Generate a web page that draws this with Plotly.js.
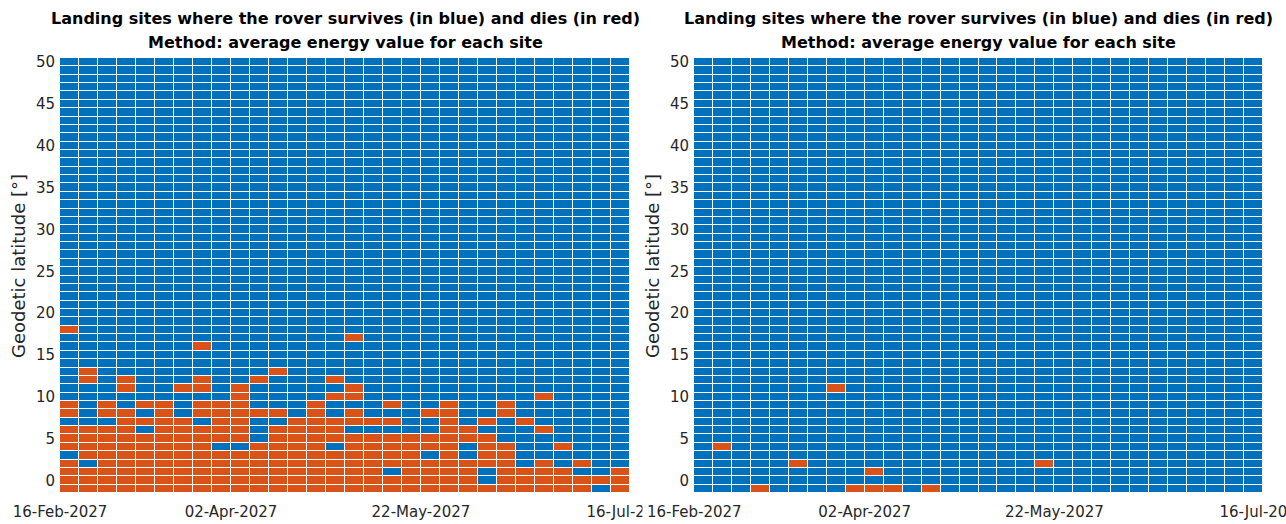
<!DOCTYPE html>
<html><head><meta charset="utf-8">
<script src="https://cdn.plot.ly/plotly-3.0.1.min.js"></script>
<style>html,body{margin:0;padding:0;background:#fff}#chart{width:1286px;height:524px}</style>
</head><body><div id="chart"></div>
<script>
// 5-day column edges (31 edges -> 30 columns)
const dateEdges = ['2027-02-16','2027-02-21','2027-02-26','2027-03-03','2027-03-08','2027-03-13',
  '2027-03-18','2027-03-23','2027-03-28','2027-04-02','2027-04-07','2027-04-12','2027-04-17',
  '2027-04-22','2027-04-27','2027-05-02','2027-05-07','2027-05-12','2027-05-17','2027-05-22',
  '2027-05-27','2027-06-01','2027-06-06','2027-06-11','2027-06-16','2027-06-21','2027-06-26',
  '2027-07-01','2027-07-06','2027-07-11','2027-07-16'];
const firstLatitude = -1;
const latitudeRows = 52;
const dateTickVals = ['2027-02-16','2027-04-02','2027-05-22','2027-07-16'];
const dateTickText = ['16-Feb-2027','02-Apr-2027','22-May-2027','16-Jul-2027'];
const latTickVals = [0,5,10,15,20,25,30,35,40,45,50];

// latitudes [deg] where the rover dies, one list per 5-day column
const leftDies = [
  [18,9,8,6,5,4,2,1,0,-1],
  [13,12,6,5,4,3,1,0,-1],
  [9,8,6,5,4,3,2,1,0,-1],
  [12,11,8,7,6,5,4,3,2,1,0,-1],
  [9,7,5,4,3,2,1,0,-1],
  [9,8,7,6,5,4,3,2,1,0,-1],
  [11,7,6,5,4,3,2,1,0,-1],
  [16,12,11,9,8,6,5,4,3,2,1,0,-1],
  [9,8,7,6,5,3,2,1,0,-1],
  [11,10,9,8,7,6,5,3,2,1,0,-1],
  [12,8,4,3,2,1,0,-1],
  [13,8,6,5,4,3,2,1,0,-1],
  [7,6,5,4,3,2,1,0,-1],
  [9,8,7,6,5,4,3,2,1,0,-1],
  [12,10,7,6,5,3,2,1,0,-1],
  [17,11,10,8,7,5,4,3,2,1,0,-1],
  [7,5,4,3,2,1,0,-1],
  [9,7,5,4,3,2,0,-1],
  [5,4,3,2,1,0,-1],
  [8,5,4,2,1,0,-1],
  [9,8,7,6,5,4,3,2,1,0,-1],
  [6,5,2,1,0,-1],
  [7,5,4,3,2,-1],
  [9,8,4,3,2,1,0,-1],
  [7,1,0,-1],
  [10,6,2,1,0,-1],
  [4,1,0,-1],
  [2,0,-1],
  [0],
  [1,0,-1]
];
const rightDies = [
  [],[4],[],[-1],[],[2],[],[11],[-1],[1,-1],[-1],[],[-1],[],[],
  [],[],[],[2],[],[],[],[],[],[],[],[],[],[],[]
];

function buildZ(dies) {
  const z = [];
  for (let r = 0; r < latitudeRows; r++) {
    const lat = firstLatitude + r;
    z.push(dies.map(list => list.includes(lat) ? 1 : 0));
  }
  return z;
}

const BLUE = '#0072BD', RED = '#D95319';
const common = {
  type: 'heatmap', x: dateEdges, y0: firstLatitude, dy: 1,
  colorscale: [[0, BLUE], [1, RED]], zmin: 0, zmax: 1, showscale: false,
  xgap: 1, ygap: 1, hoverinfo: 'skip'
};
const traces = [
  Object.assign({}, common, {z: buildZ(leftDies), xaxis: 'x', yaxis: 'y'}),
  Object.assign({}, common, {z: buildZ(rightDies), xaxis: 'x2', yaxis: 'y2'})
];

const W = 1286, H = 524;
const tickFont = {family: 'DejaVu Sans', size: 15, color: '#262626'};
function xAx(l, r, anchor, vals, text) {
  return {domain: [l / W, r / W], anchor: anchor, type: 'date',
    range: [dateEdges[0], dateEdges[dateEdges.length - 1]],
    tickmode: 'array', tickvals: vals, ticktext: text,
    showgrid: false, zeroline: false, showline: false, ticks: '',
    ticklabeloverflow: 'allow',
    tickfont: tickFont, ticklabelstandoff: 8};
}
function yAx(anchor) {
  return {domain: [(H - 493) / H, (H - 58) / H], anchor: anchor,
    range: [-1.5, 50.5], tickmode: 'array', tickvals: latTickVals,
    showgrid: false, zeroline: false, showline: false, ticks: '',
    tickfont: tickFont, ticklabelstandoff: 4};
}
const line1 = 'Landing sites where the rover survives (in blue) and dies (in red)';
const line2 = 'Method: average energy value for each site';
const titleFont = {family: 'DejaVu Sans', size: 16, color: '#000'};
const labFont = {family: 'DejaVu Sans', size: 18, color: '#262626'};
function ann(text, xpx, ypx, font, angle) {
  return {text: text, xref: 'paper', yref: 'paper', x: xpx / W, y: 1 - ypx / H,
    xanchor: 'center', yanchor: 'middle', showarrow: false, font: font,
    textangle: angle || 0};
}
const layout = {
  width: W, height: H, margin: {l: 0, r: 0, t: 0, b: 0},
  paper_bgcolor: '#fff', plot_bgcolor: '#fff', showlegend: false,
  xaxis: xAx(60, 630, 'y', dateTickVals, dateTickText),
  yaxis: yAx('x'),
  xaxis2: xAx(694, 1263, 'y2', dateTickVals.slice(1), dateTickText.slice(1)),
  yaxis2: yAx('x2'),
  annotations: [
    ann('<b>' + line1 + '</b>', 345, 19, titleFont),
    ann('<b>' + line2 + '</b>', 345, 43, titleFont),
    ann('<b>' + line1 + '</b>', 978.5, 19, titleFont),
    ann('<b>' + line2 + '</b>', 978.5, 43, titleFont),
    ann('Geodetic latitude [°]', 18, 266, labFont, -90),
    ann('Geodetic latitude [°]', 652, 266, labFont, -90),
    // first date label of the right panel, drawn over the neighbouring label
    {text: dateTickText[0], xref: 'x2', yref: 'paper', x: dateTickVals[0], y: 1 - 512 / H,
     xanchor: 'center', yanchor: 'middle', showarrow: false, font: tickFont,
     bgcolor: '#fff', borderpad: 4}
  ]
};
Plotly.newPlot('chart', traces, layout, {staticPlot: true, displayModeBar: false});
</script></body></html>
